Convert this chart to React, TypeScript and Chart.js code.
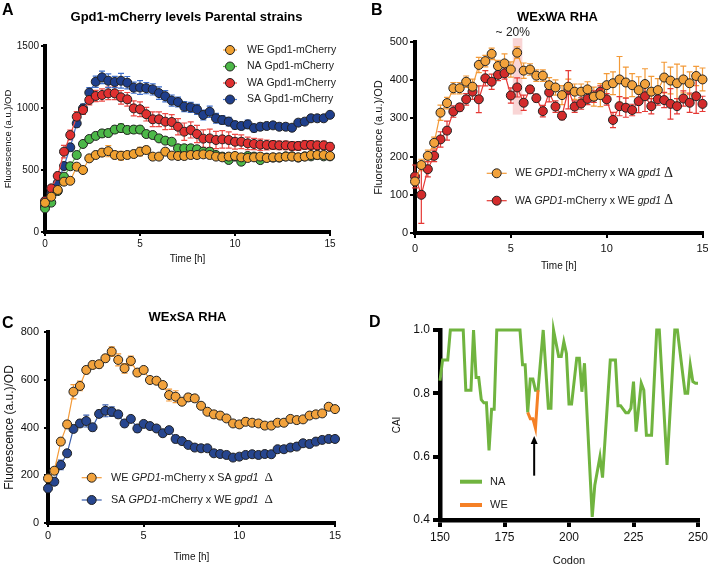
import React, { useEffect, useRef } from "react";
import { Chart, registerables } from "chart.js";
Chart.register(...registerables);

const FONT = "'Liberation Sans', Arial, Helvetica, sans-serif";
Chart.defaults.font.family = FONT;
Chart.defaults.color = "#111";

// ---------- data ----------
const T = [0, 0.33, 0.67, 1, 1.33, 1.67, 2, 2.33, 2.67, 3, 3.33, 3.67, 4, 4.33, 4.67, 5, 5.33, 5.67, 6, 6.33, 6.67, 7, 7.33, 7.67, 8, 8.33, 8.67, 9, 9.33, 9.67, 10, 10.33, 10.67, 11, 11.33, 11.67, 12, 12.33, 12.67, 13, 13.33, 13.67, 14, 14.33, 14.67, 15];

const A_LABELS = ["WE Gpd1-mCherry", "NA Gpd1-mCherry", "WA Gpd1-mCherry", "SA Gpd1-mCherry"];
const A_WE = [236,285,339,406,413,527,500,594,621,640, 652,621,615,621,629,648,661,608,608,648, 616,613,613,621,621,626,621,608,602,608, 613,602,597,602,608,597,602,602,608,608, 602,608,621,621,621,613];
const A_WE_ERR = [15,20,20,25,20,25,20,25,25,30, 45,30,35,25,25,35,30,20,20,20, 20,20,20,25,20,20,20,20,20,20, 25,20,20,20,20,20,20,20,20,20, 20,25,25,25,25,20];
const A_NA = [191,237,330,446,530,621,710,750,775,795, 798,826,838,823,826,826,790,782,755,737, 728,675,675,675,667,648,648,621,608,581, 608,567,613,608,580,600,600,600,610,610, 600,610,610,620,610,610];
const A_NA_ERR = [15,20,25,25,25,25,25,25,25,30, 30,30,35,30,30,30,25,25,25,25, 25,25,25,25,25,25,25,25,25,25, 25,25,20,20,20,20,20,20,20,20, 20,20,20,20,20,20];
const A_WA = [250,352,452,648,782,930,984,1065,1097,1105, 1118,1118,1086,1070,997,990,950,909,909,890, 887,849,809,823,790,753,755,742,747,742, 728,728,715,710,704,702,702,699,699,694, 694,702,702,699,699,688];
const A_WA_ERR = [15,20,30,50,40,40,35,40,45,50, 50,50,55,55,60,60,55,60,60,65, 60,65,70,65,70,70,75,70,70,65, 60,55,50,45,45,40,35,35,35,35, 35,35,35,35,35,30];
const A_SA = [210,310,395,532,683,876,997,1124,1212,1247, 1220,1210,1220,1204,1164,1165,1160,1150,1120,1095, 1060,1048,1011,1005,989,944,970,917,903,890, 862,855,868,838,849,855,860,849,849,841, 882,890,917,917,917,945];
const A_SA_ERR = [15,20,25,30,30,30,35,40,45,50, 55,45,60,50,45,55,45,45,50,45, 45,40,40,40,40,40,45,40,35,35, 30,30,35,30,30,25,25,20,20,20, 20,20,20,20,20,15];

const B_WE = [135,178,202,236,315,340,379,379,396,383, 440,450,469,437,444,428,472,425,428,412, 412,387,381,361,383,370,370,376,357,361, 387,392,402,394,387,374,390,370,374,407, 399,392,402,392,411,402];
const B_WE_ERR = [10,15,15,15,20,15,15,15,15,20, 20,15,15,15,25,20,15,20,15,15, 15,20,20,25,20,20,20,20,25,30, 30,30,60,40,30,35,40,40,30,40, 35,50,35,30,25,30];
const B_WA = [148,100,167,202,245,268,318,329,350,370, 350,405,396,414,418,360,381,341,376,353, 319,368,331,307,375,331,339,351,357,370, 350,296,332,328,322,345,358,332,350,348, 338,332,352,341,358,338];
const B_WA_ERR = [30,75,20,15,20,25,15,10,15,20, 35,20,20,15,15,20,25,20,10,10, 15,25,15,10,50,15,15,15,15,15, 15,20,25,25,15,30,40,20,15,20, 40,20,20,25,45,20];
const B_HL_T = [5.1, 5.6];
const B_HL_V = [310, 510];
const B_NOTE = "~ 20%";
const B_NOTE_T = 5.1;

const C_WE = [187,219,341,413,550,574,641,662,665,690, 718,683,648,679,630,641,599,596,578,536, 529,508,526,522,491,466,455,450,438,417, 413,424,420,417,408,408,420,420,436,431, 434,450,455,459,487,477];
const C_WE_ERR = [10,12,15,15,30,20,15,15,15,15, 20,25,20,20,15,10,10,10,10,25, 25,10,15,10,10,10,15,15,10,10, 10,15,10,10,10,10,10,10,10,10, 10,10,10,10,10,10];
const C_SA = [145,173,243,292,394,417,427,401,457,470, 466,455,417,436,396,415,406,396,376,389, 352,343,327,316,313,313,292,289,285,274, 278,285,288,285,289,288,309,309,316,320, 334,331,341,348,352,352];
const C_SA_ERR = [15,15,20,10,15,15,25,15,15,25, 20,15,15,10,15,10,10,10,10,10, 15,10,10,10,10,10,10,10,10,10, 10,10,10,10,10,10,10,10,10,10, 10,10,10,10,10,10];

const D_NA_CODON = [150,151,153,154,159,160,162,163,164,165,166,167,168,169,170,171,172,181,182,183,184,185,186,187,188,190,192,193,194,196,197,198,199,200,201,203,204,205,206,209,210,212,213,216,218,219,220,222,223,224,225,226,228,229,230,232,234,235,238,241,242,245,246,247,248,249,250];
const D_NA_CAI = [0.84,0.905,0.905,1.0,1.0,0.81,0.81,1.0,0.85,0.85,0.78,0.77,0.77,0.62,0.75,0.75,1.0,1.0,0.89,0.89,0.74,0.845,0.845,0.81,0.81,1.0,0.753,0.753,1.0,0.916,0.916,0.963,0.926,0.766,0.766,0.911,0.911,0.805,0.895,0.41,0.51,0.6,0.534,0.905,0.905,0.761,0.761,0.739,0.739,0.753,0.837,0.679,0.832,0.81,0.668,0.668,1.0,1.0,0.574,1.0,1.0,0.8,0.8,0.889,0.837,0.832,0.832];
const D_WE_CODON = [184, 185, 186, 187, 188];
const D_WE_CAI = [0.74, 0.72, 0.72, 0.69, 0.81];
const D_ARROW_CODON = 186.5;
const D_ARROW_FROM = 0.54;
const D_ARROW_TO = 0.665;

const TITLE_A = "Gpd1-mCherry levels Parental strains";
const TITLE_B = "WExWA RHA";
const TITLE_C = "WExSA RHA";
const Y_TITLE = "Fluorescence (a.u.)/OD";
const X_TITLE = "Time [h]";

// ---------- helpers ----------
const errorBarPlugin = {
  id: "errbars",
  beforeDatasetsDraw(chart: any) {
    const ctx = chart.ctx;
    const ys = chart.scales.y;
    chart.data.datasets.forEach((ds: any, di: number) => {
      if (!ds.errors) return;
      const meta = chart.getDatasetMeta(di);
      ctx.save();
      ctx.strokeStyle = ds.borderColor;
      ctx.lineWidth = 1.2;
      meta.data.forEach((pt: any, i: number) => {
        const v = ds.data[i].y;
        const e = ds.errors[i];
        const yt = ys.getPixelForValue(v + e);
        const yb = ys.getPixelForValue(v - e);
        ctx.beginPath();
        ctx.moveTo(pt.x, yt); ctx.lineTo(pt.x, yb);
        ctx.moveTo(pt.x - 3, yt); ctx.lineTo(pt.x + 3, yt);
        ctx.moveTo(pt.x - 3, yb); ctx.lineTo(pt.x + 3, yb);
        ctx.stroke();
      });
      ctx.restore();
    });
  },
};

function seriesDS(label: string, data: number[], err: number[], line: string, fill: string) {
  return {
    label,
    data: T.map((t, i) => ({ x: t, y: data[i] })),
    errors: err,
    borderColor: line,
    backgroundColor: fill,
    pointBackgroundColor: fill,
    pointBorderColor: "#222",
    pointBorderWidth: 1,
    pointRadius: 4.5,
    borderWidth: 1.2,
    tension: 0,
    clip: false,
  };
}

function mkScales(p: any) {
  return {
    x: {
      type: "linear", min: p.xmin, max: p.xmax,
      afterFit: (s: any) => { s.height = p.xh; s.paddingLeft = 0; s.paddingRight = 0; },
      ticks: { stepSize: p.xstep, font: { size: p.tickSize }, color: "#111", padding: p.xpad, maxRotation: 0, autoSkip: false, callback: (v: any) => String(v) },
      grid: { display: true, drawOnChartArea: false, drawTicks: true, tickLength: p.tl, lineWidth: p.tw, color: "#000" },
      border: { display: true, color: "#000", width: p.bw },
      title: { display: true, text: p.xtitle, font: { size: p.xtSize }, color: "#111", padding: { top: 0, bottom: p.xtPad } },
    },
    y: {
      type: "linear", min: p.ymin, max: p.ymax,
      afterFit: (s: any) => { s.width = p.yw; s.paddingTop = 0; s.paddingBottom = 0; },
      ticks: { stepSize: p.ystep, font: { size: p.tickSize }, color: "#111", padding: p.ypad, autoSkip: false, callback: p.yfmt || ((v: any) => String(v)) },
      grid: { display: true, drawOnChartArea: false, drawTicks: true, tickLength: p.tl, lineWidth: p.tw, color: "#000" },
      border: { display: true, color: "#000", width: p.bw },
      title: { display: true, text: p.ytitle, font: { size: p.ytSize }, color: "#111", padding: { top: p.ytPad, bottom: 0 } },
    },
  };
}

function legendMarker(ctx: any, x1: number, x2: number, y: number, line: string, fill: string) {
  ctx.strokeStyle = line; ctx.lineWidth = 1.2;
  ctx.beginPath(); ctx.moveTo(x1, y); ctx.lineTo(x2, y); ctx.stroke();
  ctx.beginPath(); ctx.arc((x1 + x2) / 2, y, 4.5, 0, Math.PI * 2);
  ctx.fillStyle = fill; ctx.fill();
  ctx.strokeStyle = "#222"; ctx.lineWidth = 1; ctx.stroke();
}

function drawSegs(ctx: any, segs: [string, string][], x: number, y: number) {
  ctx.textBaseline = "middle"; ctx.textAlign = "left"; ctx.fillStyle = "#222";
  for (const [t, f] of segs) { ctx.font = f; ctx.fillText(t, x, y); x += ctx.measureText(t).width; }
}

function letter(ctx: any, s: string, x: number, y: number) {
  ctx.font = `bold 16px ${FONT}`; ctx.fillStyle = "#000"; ctx.textAlign = "left"; ctx.textBaseline = "alphabetic";
  ctx.fillText(s, x, y);
}
function title(ctx: any, s: string, x: number, y: number) {
  ctx.font = `bold 13px ${FONT}`; ctx.fillStyle = "#000"; ctx.textAlign = "center"; ctx.textBaseline = "middle";
  ctx.fillText(s, x, y);
}

function crossLegend(size: number, dSize: number, a: string, b: string, gap: string): [string, string][] {
  const n = `${size}px ${FONT}`, it = `italic ${size}px ${FONT}`;
  return [[`${a} `, n], ["GPD1", it], [`-mCherry x ${b} `, n], ["gpd1", it], [gap, n], ["\u0394", `${dSize}px 'Liberation Serif', 'DejaVu Serif', serif`]];
}

// ---------- configs ----------
function configA(): any {
  const ds = [
    seriesDS(A_LABELS[0], A_WE, A_WE_ERR, "#F4A13E", "#F0A030"),
    seriesDS(A_LABELS[1], A_NA, A_NA_ERR, "#5DBB4A", "#4CB848"),
    seriesDS(A_LABELS[2], A_WA, A_WA_ERR, "#EC4A45", "#E03030"),
    seriesDS(A_LABELS[3], A_SA, A_SA_ERR, "#3F6FCB", "#1F3F8C"),
  ];
  return {
    type: "line",
    data: { datasets: ds },
    options: {
      animation: false, responsive: false, devicePixelRatio: 1,
      layout: { padding: { left: 0, right: 24, top: 46, bottom: 0 } },
      plugins: { legend: { display: false }, tooltip: { enabled: false } },
      scales: mkScales({ xmin: 0, xmax: 15, xstep: 5, ymin: 0, ymax: 1500, ystep: 500, xh: 53, yw: 45, tickSize: 10, xpad: 2, ypad: 2, tl: 4, tw: 2, bw: 4, xtitle: X_TITLE, xtSize: 10, xtPad: 20, ytitle: Y_TITLE, ytSize: 9.5, ytPad: 3 }),
    },
    plugins: [errorBarPlugin, {
      id: "ovA",
      afterDraw(chart: any) {
        const ctx = chart.ctx; ctx.save();
        letter(ctx, "A", 2, 15);
        title(ctx, TITLE_A, 186.5, 17.5);
        chart.data.datasets.forEach((d: any, i: number) => {
          const y = 50 + i * 16.5;
          legendMarker(ctx, 223, 237, y, d.borderColor, d.pointBackgroundColor);
          drawSegs(ctx, [[d.label, `10.5px ${FONT}`]], 247, y);
        });
        ctx.restore();
      },
    }],
  };
}

function configB(): any {
  const ds = [
    seriesDS("WE GPD1-mCherry x WA gpd1", B_WE, B_WE_ERR, "#F39A38", "#F2A23C"),
    seriesDS("WA GPD1-mCherry x WE gpd1", B_WA, B_WA_ERR, "#E53935", "#D32B2B"),
  ];
  return {
    type: "line",
    data: { datasets: ds },
    options: {
      animation: false, responsive: false, devicePixelRatio: 1,
      layout: { padding: { left: 0, right: 5, top: 42, bottom: 0 } },
      plugins: { legend: { display: false }, tooltip: { enabled: false } },
      scales: mkScales({ xmin: 0, xmax: 15, xstep: 5, ymin: 0, ymax: 500, ystep: 100, xh: 52, yw: 61, tickSize: 11, xpad: 4, ypad: 2, tl: 5, tw: 2, bw: 4, xtitle: X_TITLE, xtSize: 10, xtPad: 13, ytitle: Y_TITLE, ytSize: 11, ytPad: 18 }),
    },
    plugins: [{
      id: "hlB",
      beforeDatasetsDraw(chart: any) {
        const { ctx, scales: { x, y } } = chart;
        ctx.save();
        ctx.fillStyle = "rgba(240,150,150,0.4)";
        const x1 = x.getPixelForValue(B_HL_T[0]), x2 = x.getPixelForValue(B_HL_T[1]);
        const y1 = y.getPixelForValue(B_HL_V[1]), y2 = y.getPixelForValue(B_HL_V[0]);
        ctx.fillRect(x1, y1, x2 - x1, y2 - y1);
        ctx.restore();
      },
    }, errorBarPlugin, {
      id: "ovB",
      afterDraw(chart: any) {
        const ctx = chart.ctx; ctx.save();
        letter(ctx, "B", 17, 15);
        title(ctx, TITLE_B, 203.5, 17);
        ctx.font = `12px ${FONT}`; ctx.fillStyle = "#222"; ctx.textAlign = "center"; ctx.textBaseline = "middle";
        ctx.fillText(B_NOTE, chart.scales.x.getPixelForValue(B_NOTE_T), chart.chartArea.top - 9);
        const items = [crossLegend(10.5, 14, "WE", "WA", " "), crossLegend(10.5, 14, "WA", "WE", " ")];
        chart.data.datasets.forEach((d: any, i: number) => {
          const y = 173.3 + i * 27.4;
          legendMarker(ctx, 132.7, 152.7, y, d.borderColor, d.pointBackgroundColor);
          drawSegs(ctx, items[i], 161, y);
        });
        ctx.restore();
      },
    }],
  };
}

function configC(): any {
  const ds = [
    seriesDS("WE GPD1-mCherry x SA gpd1", C_WE, C_WE_ERR, "#F39A38", "#F2A23C"),
    seriesDS("SA GPD1-mCherry x WE gpd1", C_SA, C_SA_ERR, "#3A5DAA", "#27468F"),
  ];
  return {
    type: "line",
    data: { datasets: ds },
    options: {
      animation: false, responsive: false, devicePixelRatio: 1,
      layout: { padding: { left: 0, right: 19, top: 47, bottom: 0 } },
      plugins: { legend: { display: false }, tooltip: { enabled: false } },
      scales: mkScales({ xmin: 0, xmax: 15, xstep: 5, ymin: 0, ymax: 800, ystep: 200, xh: 46, yw: 48, tickSize: 11, xpad: 2, ypad: 5, tl: 4, tw: 2, bw: 4, xtitle: X_TITLE, xtSize: 10, xtPad: 5.5, ytitle: Y_TITLE, ytSize: 12, ytPad: 2 }),
    },
    plugins: [errorBarPlugin, {
      id: "ovC",
      afterDraw(chart: any) {
        const ctx = chart.ctx; ctx.save();
        letter(ctx, "C", 2, 43);
        title(ctx, TITLE_C, 187.5, 32);
        const items = [crossLegend(10.8, 13, "WE", "SA", "  "), crossLegend(10.8, 13, "SA", "WE", "  ")];
        chart.data.datasets.forEach((d: any, i: number) => {
          const y = 192.7 + i * 22.3;
          legendMarker(ctx, 81.7, 101.7, y, d.borderColor, d.pointBackgroundColor);
          drawSegs(ctx, items[i], 111, y);
        });
        ctx.restore();
      },
    }],
  };
}

function configD(): any {
  const ds = [
    { label: "NA", data: D_NA_CODON.map((c, i) => ({ x: c, y: D_NA_CAI[i] })), borderColor: "#70B43F", borderWidth: 3, pointRadius: 0, tension: 0, clip: false, order: 1 },
    { label: "WE", data: D_WE_CODON.map((c, i) => ({ x: c, y: D_WE_CAI[i] })), borderColor: "#F58025", borderWidth: 3, pointRadius: 0, tension: 0, clip: false, order: 0 },
  ];
  return {
    type: "line",
    data: { datasets: ds },
    options: {
      animation: false, responsive: false, devicePixelRatio: 1,
      layout: { padding: { left: 0, right: 10, top: 45, bottom: 0 } },
      plugins: { legend: { display: false }, tooltip: { enabled: false } },
      scales: mkScales({ xmin: 150, xmax: 250, xstep: 25, ymin: 0.4, ymax: 1.0, ystep: 0.2, yfmt: (v: any) => Number(v).toFixed(1), xh: 49, yw: 86, tickSize: 12, xpad: 3, ypad: 3, tl: 7, tw: 4, bw: 4.5, xtitle: "Codon", xtSize: 11, xtPad: 1.4, ytitle: "CAI", ytSize: 10, ytPad: 37.5 }),
    },
    plugins: [{
      id: "ovD",
      afterDraw(chart: any) {
        const { ctx, scales: { x, y } } = chart; ctx.save();
        letter(ctx, "D", 15, 42);
        const ax = x.getPixelForValue(D_ARROW_CODON);
        const y0 = y.getPixelForValue(D_ARROW_FROM), y1 = y.getPixelForValue(D_ARROW_TO);
        ctx.strokeStyle = "#000"; ctx.fillStyle = "#000"; ctx.lineWidth = 2;
        ctx.beginPath(); ctx.moveTo(ax, y0); ctx.lineTo(ax, y1 + 6); ctx.stroke();
        ctx.beginPath(); ctx.moveTo(ax, y1); ctx.lineTo(ax - 3.5, y1 + 8); ctx.lineTo(ax + 3.5, y1 + 8); ctx.closePath(); ctx.fill();
        const ys = [196.7, 220];
        [0, 1].forEach((i) => {
          const d = chart.data.datasets[i];
          ctx.strokeStyle = d.borderColor; ctx.lineWidth = 4;
          ctx.beginPath(); ctx.moveTo(106, ys[i]); ctx.lineTo(128, ys[i]); ctx.stroke();
          drawSegs(ctx, [[d.label, `11px ${FONT}`]], 136, ys[i]);
        });
        ctx.restore();
      },
    }],
  };
}

function Panel({ left, top, width, height, make }: { left: number; top: number; width: number; height: number; make: () => any }) {
  const ref = useRef<HTMLCanvasElement>(null);
  useEffect(() => {
    const chart = new Chart(ref.current as HTMLCanvasElement, make());
    return () => chart.destroy();
  }, []);
  return (
    <div style={{ position: "absolute", left, top, width, height }}>
      <canvas ref={ref} width={width} height={height} style={{ width, height, display: "block" }} />
    </div>
  );
}

export default function App() {
  return (
    <div style={{ position: "absolute", left: 0, top: 0, width: 708, height: 569, background: "#fff", overflow: "hidden" }}>
      <Panel left={0} top={0} width={354} height={285} make={configA} />
      <Panel left={354} top={0} width={354} height={285} make={configB} />
      <Panel left={0} top={285} width={354} height={284} make={configC} />
      <Panel left={354} top={285} width={354} height={284} make={configD} />
    </div>
  );
}
